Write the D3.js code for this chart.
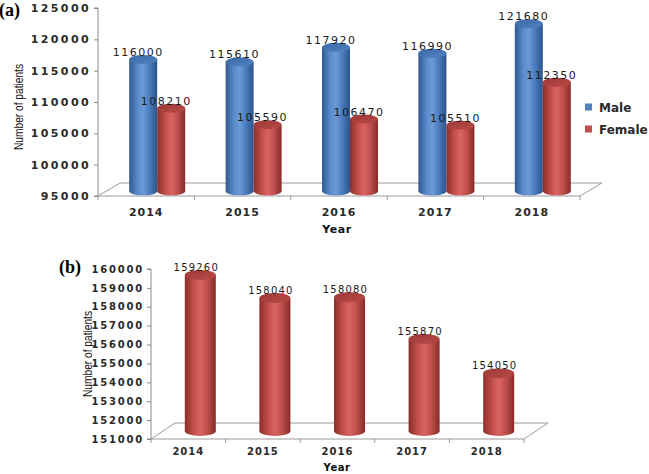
<!DOCTYPE html>
<html>
<head>
<meta charset="utf-8">
<script src="https://cdn.jsdelivr.net/npm/d3@7"></script>
<style>
  body { margin: 0; background: #fff; }
  svg { display: block; font-family: "DejaVu Sans", Verdana, sans-serif; }
  .tick-label { font-weight: bold; fill: #2a2a2a; }
  .value-label { fill: #1a1a1a; }
  .cat-label { font-weight: bold; fill: #2a2a2a; }
  .axis-title { font-weight: bold; fill: #111; }
  .y-title { font-family: "Liberation Sans", Arial, sans-serif; fill: #111; }
  .panel-tag { font-family: "Liberation Serif", "Times New Roman", serif; font-weight: bold; fill: #000; }
  .legend-label { font-weight: bold; fill: #2a2a2a; }
</style>
</head>
<body>
<svg id="chart" width="649" height="474"></svg>
<script>
// data
const YEARS = ['2014', '2015', '2016', '2017', '2018'];
const MALE = [116000, 115610, 117920, 116990, 121680];
const FEMALE = [108210, 105590, 106470, 105510, 112350];
const TOTAL = [159260, 158040, 158080, 155870, 154050];
const TICKS_A = [95000, 100000, 105000, 110000, 115000, 120000, 125000];
const TICKS_B = [151000, 152000, 153000, 154000, 155000, 156000, 157000, 158000, 159000, 160000];
const SERIES_A = ['Male', 'Female'];

const COLORS = {
  blue: { side: ['#2f5a92', '#5a8bcc', '#6b9ad6', '#4a7cbf', '#2c548a'], top: ['#3a68a6', '#5282c2'] },
  red: { side: ['#8c2d2a', '#c4504d', '#d96360', '#c0504d', '#872b28'], top: ['#9e3a37', '#b84946'] }
};

/* global d3 */
const $svg = d3.select('#chart');
const $defs = $svg.append('defs');

function makeGradients(name) {
  const c = COLORS[name];
  const side = $defs.append('linearGradient').attr('id', `side-${name}`)
    .attr('x1', 0).attr('x2', 1).attr('y1', 0).attr('y2', 0);
  [0, 0.3, 0.5, 0.72, 1].forEach((o, i) => side.append('stop').attr('offset', o).attr('stop-color', c.side[i]));
  const top = $defs.append('linearGradient').attr('id', `top-${name}`)
    .attr('x1', 0).attr('x2', 1).attr('y1', 0).attr('y2', 1);
  top.append('stop').attr('offset', 0).attr('stop-color', c.top[0]);
  top.append('stop').attr('offset', 1).attr('stop-color', c.top[1]);
}
makeGradients('blue');
makeGradients('red');

function cylinder($g, cx, yTop, yBot, w, ry, color) {
  $g.append('ellipse')
    .attr('cx', cx).attr('cy', yBot).attr('rx', w / 2).attr('ry', ry)
    .attr('fill', `url(#side-${color})`);
  $g.append('rect')
    .attr('x', cx - w / 2).attr('y', yTop).attr('width', w).attr('height', Math.max(0, yBot - yTop))
    .attr('fill', `url(#side-${color})`);
  $g.append('ellipse')
    .attr('cx', cx).attr('cy', yTop).attr('rx', w / 2).attr('ry', ry)
    .attr('fill', `url(#top-${color})`);
}

function drawPanel(opt) {
  const $g = $svg.append('g');

  const scaleY = d3.scaleLinear()
    .domain(d3.extent(opt.ticks))
    .range([opt.bottom, opt.top]);

  const scaleX = d3.scaleBand()
    .domain(YEARS)
    .range([opt.left, opt.right])
    .padding(0);

  // floor (3D base)
  const dx = opt.depthX, dy = opt.depthY;
  const yb = opt.bottom;
  $g.append('path')
    .attr('d', `M${opt.left},${yb}L${opt.right},${yb}L${opt.right + dx},${yb - dy}L${opt.left + dx},${yb - dy}Z`)
    .attr('fill', 'none')
    .attr('stroke', '#9a9a9a')
    .attr('stroke-width', 1);

  // category ticks on front edge
  const bounds = YEARS.map(d => scaleX(d)).concat([opt.right]);
  $g.selectAll('line.xtick').data(bounds).join('line')
    .attr('class', 'xtick')
    .attr('x1', d => d).attr('x2', d => d)
    .attr('y1', yb).attr('y2', yb + 4)
    .attr('stroke', '#9a9a9a');

  // y axis
  const axisY = d3.axisLeft(scaleY)
    .tickValues(opt.ticks)
    .tickSize(4)
    .tickPadding(3)
    .tickFormat(d3.format('d'));

  const $axis = $g.append('g')
    .attr('transform', `translate(${opt.left},0)`)
    .call(axisY);
  $axis.select('.domain').attr('stroke', '#8a8a8a').attr('d', `M-4,${opt.top}H0V${opt.bottom}H-4`);
  $axis.selectAll('.tick line').attr('stroke', '#8a8a8a');
  $axis.selectAll('.tick text')
    .attr('class', 'tick-label')
    .attr('font-size', opt.tickFont)
    .attr('font-family', '"DejaVu Sans", Verdana, sans-serif')
    .style('letter-spacing', `${opt.tickSpacing}px`);

  // bars
  const n = opt.series.length;
  const $bars = $g.append('g');
  const labels = [];
  YEARS.forEach((yr, i) => {
    opt.series.forEach((s, j) => {
      const cx = scaleX(yr) + scaleX.bandwidth() / 2 + dx / 2 + (j - (n - 1) / 2) * opt.barW;
      const yTop = scaleY(s.values[i]) - opt.barShift;
      const yBot = scaleY(opt.ticks[0]) - opt.barShift;
      cylinder($bars, cx, yTop, yBot, opt.barW, opt.ry, s.color);
      labels.push({ x: cx - opt.labelShift, y: yTop - opt.ry + opt.labelDrop, v: s.values[i] });
    });
  });

  $g.append('g').selectAll('text').data(labels).join('text')
    .attr('class', 'value-label')
    .attr('x', d => d.x).attr('y', d => d.y)
    .attr('text-anchor', 'middle')
    .attr('font-size', opt.valueFont)
    .style('letter-spacing', `${opt.valueSpacing}px`)
    .text(d => d.v);

  // category labels
  $g.append('g').selectAll('text').data(YEARS).join('text')
    .attr('class', 'cat-label')
    .attr('x', d => scaleX(d) + scaleX.bandwidth() / 2)
    .attr('y', opt.catY)
    .attr('text-anchor', 'middle')
    .attr('font-size', opt.catFont)
    .style('letter-spacing', '1px')
    .text(d => d);

  // axis titles
  $g.append('text')
    .attr('class', 'axis-title')
    .attr('x', opt.xTitle[0]).attr('y', opt.xTitle[1])
    .attr('text-anchor', 'middle')
    .attr('font-size', opt.catFont)
    .style('letter-spacing', '0.5px')
    .text('Year');

  $g.append('text')
    .attr('class', 'y-title')
    .attr('transform', `translate(${opt.yTitle[0]},${opt.yTitle[1]}) rotate(-90)`)
    .attr('text-anchor', 'middle')
    .attr('dy', '0.35em')
    .attr('font-size', 13)
    .attr('textLength', 86)
    .attr('lengthAdjust', 'spacingAndGlyphs')
    .text('Number of patients');

  $g.append('text')
    .attr('class', 'panel-tag')
    .attr('x', opt.tag[0]).attr('y', opt.tag[1])
    .attr('font-size', 18)
    .text(opt.tagText);

  return $g;
}

drawPanel({
  ticks: TICKS_A,
  series: [
    { key: SERIES_A[0], values: MALE, color: 'blue' },
    { key: SERIES_A[1], values: FEMALE, color: 'red' }
  ],
  left: 98, right: 580, top: 8, bottom: 196,
  depthX: 22, depthY: 13, barShift: 5,
  barW: 28, ry: 4.5,
  labelShift: 5, labelDrop: 1,
  tickFont: 11, tickSpacing: 2.4,
  valueFont: 11, valueSpacing: 1.5,
  catFont: 11, catY: 216,
  xTitle: [337, 233], yTitle: [18, 107],
  tag: [-1, 16], tagText: '(a)'
});

drawPanel({
  ticks: TICKS_B,
  series: [{ key: 'Total', values: TOTAL, color: 'red' }],
  left: 151, right: 524, top: 269, bottom: 439,
  depthX: 24, depthY: 16, barShift: 8,
  barW: 31, ry: 5,
  labelShift: 4, labelDrop: 1,
  tickFont: 10, tickSpacing: 1.8,
  valueFont: 10, valueSpacing: 1.2,
  catFont: 10, catY: 455,
  xTitle: [337, 471], yTitle: [87, 354],
  tag: [59, 273], tagText: '(b)'
});

// legend for panel (a)
const $legend = $svg.append('g');
SERIES_A.forEach((name, i) => {
  const y = 107 + i * 22;
  $legend.append('rect')
    .attr('x', 585).attr('y', y - 3.5).attr('width', 7).attr('height', 7)
    .attr('fill', i === 0 ? '#4f81bd' : '#c0504d');
  $legend.append('text')
    .attr('class', 'legend-label')
    .attr('x', 599).attr('y', y + 4.5)
    .attr('font-size', 12)
    .text(name);
});
</script>
</body>
</html>
